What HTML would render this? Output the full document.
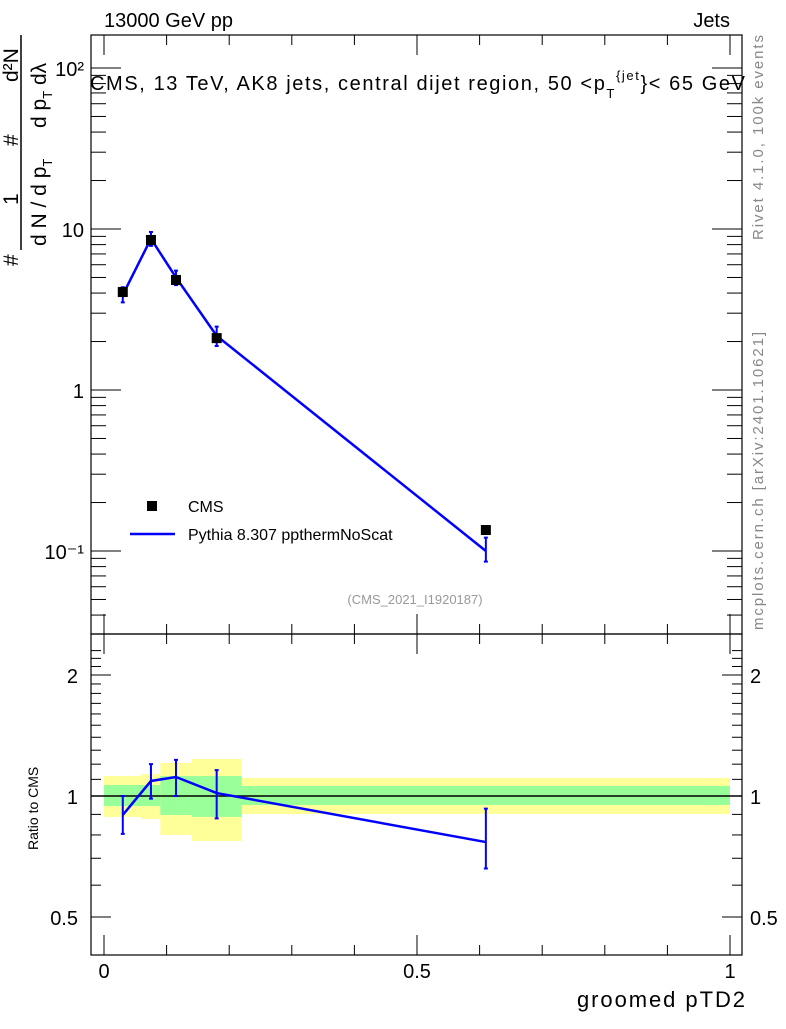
<!DOCTYPE html>
<html><head><meta charset="utf-8"><style>
body{margin:0;background:#fff;width:786px;height:1024px;overflow:hidden;font-family:"Liberation Sans",sans-serif}
</style></head><body>
<svg id="c" width="786" height="1024" xmlns="http://www.w3.org/2000/svg" font-family="Liberation Sans, sans-serif">
<g id="bands"></g>
<g id="g"></g>
<rect x="91" y="35" width="651" height="599" fill="none" stroke="#000" stroke-width="1.2"/>
<rect x="91" y="634" width="651" height="321" fill="none" stroke="#000" stroke-width="1.2"/>
<text x="104" y="27" font-size="20">13000 GeV pp</text>
<text x="730" y="27" font-size="20" text-anchor="end">Jets</text>
<text x="90" y="90" font-size="20" textLength="655" lengthAdjust="spacing">CMS, 13 TeV, AK8 jets, central dijet region, 50 &lt;p<tspan font-size="13" dy="8">T</tspan><tspan font-size="13" dy="-18">{jet</tspan><tspan dy="10">}&lt; 65 GeV</tspan></text>
<text x="415" y="604" font-size="13" fill="#999" text-anchor="middle">(CMS_2021_I1920187)</text>
<rect x="147" y="501" width="10" height="10" fill="#000"/>
<text x="188" y="512" font-size="16">CMS</text>
<line x1="130" y1="534" x2="175" y2="534" stroke="#00f" stroke-width="2.5"/>
<text x="188" y="540" font-size="16">Pythia 8.307 ppthermNoScat</text>
<text transform="translate(763,240) rotate(-90)" font-size="15" fill="#888" textLength="205" lengthAdjust="spacing">Rivet 4.1.0,  100k events</text>
<text transform="translate(763,630) rotate(-90)" font-size="15" fill="#888" textLength="298" lengthAdjust="spacing">mcplots.cern.ch [arXiv:2401.10621]</text>
<g>
<line x1="21" y1="35" x2="21" y2="250" stroke="#000" stroke-width="1.5"/>
<text transform="translate(18,266) rotate(-90)" font-size="21">#</text>
<text transform="translate(18,205) rotate(-90)" font-size="21">1</text>
<text transform="translate(18,146) rotate(-90)" font-size="21">#</text>
<text transform="translate(18,82) rotate(-90)" font-size="21">d²N</text>
<text transform="translate(46,246) rotate(-90)" font-size="21">d N / d p<tspan font-size="13" dy="6">T</tspan></text>
<text transform="translate(46,128) rotate(-90)" font-size="21">d p<tspan font-size="13" dy="6">T</tspan><tspan dy="-6"> dλ</tspan></text>
</g>
<text transform="translate(38,850) rotate(-90)" font-size="14">Ratio to CMS</text>
<text x="745" y="1007" font-size="22" text-anchor="end" textLength="168" lengthAdjust="spacing">groomed pTD2</text>
</svg>
<script>
const edges=[0,0.06,0.09,0.14,0.22,1];
const xs=[0.03,0.075,0.115,0.18,0.61];
const cms=[4.06,8.55,4.82,2.1,0.135];
const mc=[3.9,8.7,5.0,2.17,0.1];
const ratio=[0.897,1.09,1.115,1.017,0.768];
const ratioLo=[0.805,0.985,1.0,0.88,0.66];
const ratioHi=[1.0,1.2,1.23,1.16,0.93];
const yelLo=[0.887,0.877,0.800,0.773,0.902];
const yelHi=[1.121,1.134,1.208,1.236,1.109];
const grnLo=[0.944,0.944,0.897,0.887,0.950];
const grnHi=[1.065,1.065,1.121,1.121,1.059];
const yTicks=[["10²",100],["10",10],["1",1],["10⁻¹",0.1]];
const xTicks=[["0",0],["0.5",0.5],["1",1]];
const rTicks=[["2",2],["1",1],["0.5",0.5]];
const X=v=>104+v*626, Y=v=>229-(Math.log10(v)-1)*161, R=v=>796-Math.log2(v)*121;
const NS="http://www.w3.org/2000/svg",g=document.getElementById('g'),bd=document.getElementById('bands');
function mk(t,a,p){const e=document.createElementNS(NS,t);for(const k in a)e.setAttribute(k,a[k]);(p||g).appendChild(e);return e;}
for(let i=0;i<xs.length;i++){
 let e=mk('rect',{x:X(edges[i]),y:R(yelHi[i]),width:X(edges[i+1])-X(edges[i]),height:R(yelLo[i])-R(yelHi[i]),fill:'#ffff99'},bd);
 
 
 e=mk('rect',{x:X(edges[i]),y:R(grnHi[i]),width:X(edges[i+1])-X(edges[i]),height:R(grnLo[i])-R(grnHi[i]),fill:'#99ff99'},bd);
 
 
}
let l=mk('line',{x1:91,x2:742,y1:R(1),y2:R(1),stroke:'#000','stroke-width':1.5});


for(let d=-2;d<=2;d++)for(let k=1;k<10;k++){const v=k*Math.pow(10,d),y=Y(v);if(y<35||y>634)continue;const L=k==1?30:15;
 mk('line',{x1:91,x2:91+L,y1:y,y2:y,stroke:'#000'});mk('line',{x1:742,x2:742-L,y1:y,y2:y,stroke:'#000'});}
for(const [s,v] of yTicks){const t=mk('text',{x:84,y:Y(v)+8,'font-size':20,'text-anchor':'end'});t.textContent=s;
 
 }
for(let k=0;k<=10;k++){const x=X(k/10),L=k%5==0?20:10;
 mk('line',{x1:x,x2:x,y1:35,y2:35+L,stroke:'#000'});mk('line',{x1:x,x2:x,y1:634,y2:634-L,stroke:'#000'});
 mk('line',{x1:x,x2:x,y1:634,y2:634+L,stroke:'#000'});mk('line',{x1:x,x2:x,y1:955,y2:955-L,stroke:'#000'});}
for(const [s,v] of xTicks){const t=mk('text',{x:X(v),y:978,'font-size':20,'text-anchor':'middle'});t.textContent=s;
 
 }
for(let v=0.4;v<=2.4;v+=0.1){const y=R(v);if(y<634||y>955)continue;const major=[0.5,1,2].some(m=>Math.abs(m-v)<1e-6),L=major?20:10;
 mk('line',{x1:91,x2:91+L,y1:y,y2:y,stroke:'#000'});mk('line',{x1:742,x2:742-L,y1:y,y2:y,stroke:'#000'});}
for(const [s,v] of rTicks){let t=mk('text',{x:78,y:R(v)+8,'font-size':20,'text-anchor':'end'});t.textContent=s;
 
 
 t=mk('text',{x:750,y:R(v)+8,'font-size':20});t.textContent=s;
 
 }
let p=mk('polyline',{points:xs.map((x,i)=>X(x)+','+Y(mc[i])).join(' '),fill:'none',stroke:'#00f','stroke-width':2.5});


for(let i=0;i<xs.length;i++){
 const lo=mc[i]*ratioLo[i]/ratio[i],hi=mc[i]*ratioHi[i]/ratio[i],x=X(xs[i]);
 let e=mk('path',{d:`M${x},${Y(lo)}V${Y(hi)}M${x-2},${Y(lo)}h4M${x-2},${Y(hi)}h4`,stroke:'#00f','stroke-width':2,fill:'none'});
 
 
 e=mk('rect',{x:x-5,y:Y(cms[i])-5,width:10,height:10,fill:'#000'});
 
 
}
p=mk('polyline',{points:xs.map((x,i)=>X(x)+','+R(ratio[i])).join(' '),fill:'none',stroke:'#00f','stroke-width':2.5});


for(let i=0;i<xs.length;i++){const x=X(xs[i]);
 const e=mk('path',{d:`M${x},${R(ratioLo[i])}V${R(ratioHi[i])}M${x-2},${R(ratioLo[i])}h4M${x-2},${R(ratioHi[i])}h4`,stroke:'#00f','stroke-width':2,fill:'none'});
 
 }
</script>
</body></html>
